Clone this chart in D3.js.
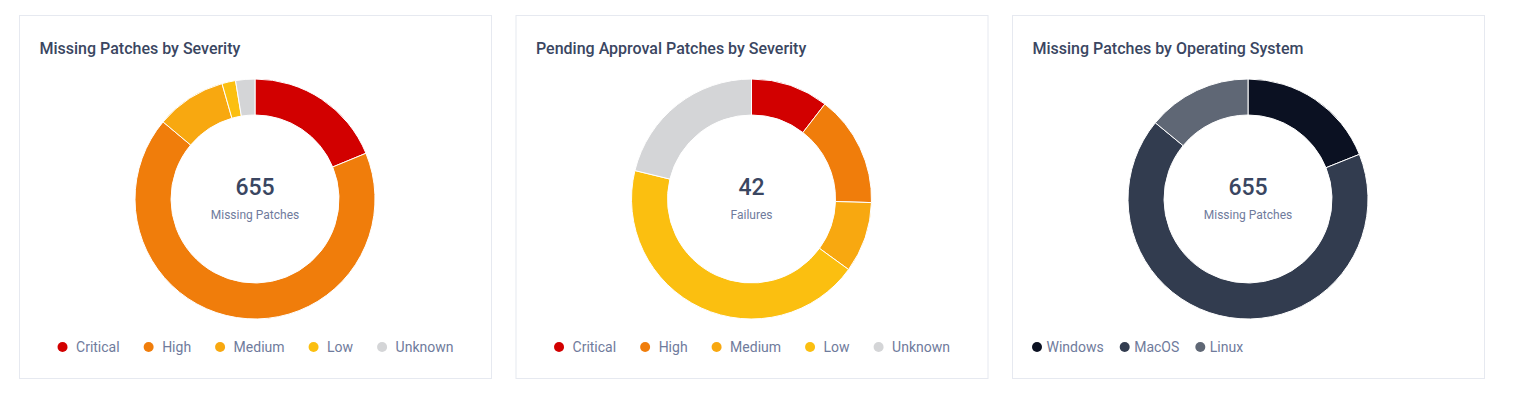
<!DOCTYPE html>
<html>
<head>
<meta charset="utf-8">
<script src="https://cdn.jsdelivr.net/npm/d3@7"></script>
<style>
  body { margin: 0; background: #fff; font-family: Roboto, sans-serif; }
</style>
</head>
<body>
<svg id="chart" width="1517" height="395"></svg>
<script>
const severityLabels = ['Critical', 'High', 'Medium', 'Low', 'Unknown'];
const severityColors = ['#d20000', '#f07d0b', '#f8a810', '#fbbf10', '#d4d5d7'];
const missingBySeverity = [123, 441, 62, 12, 17];
const pendingBySeverity = [4.4, 6.3, 4, 18.4, 8.9];

const osLabels = ['Windows', 'MacOS', 'Linux'];
const osColors = ['#0b1122', '#323c4f', '#5f6775'];
const missingByOs = [124, 439, 92];

const cards = [
  { title: 'Missing Patches by Severity', labels: severityLabels, colors: severityColors, values: missingBySeverity, total: '655', sub: 'Missing Patches', legend: 'center' },
  { title: 'Pending Approval Patches by Severity', labels: severityLabels, colors: severityColors, values: pendingBySeverity, total: '42', sub: 'Failures', legend: 'center' },
  { title: 'Missing Patches by Operating System', labels: osLabels, colors: osColors, values: missingByOs, total: '655', sub: 'Missing Patches', legend: 'left' }
];

const svg = d3.select('#chart');
const cardW = 472, cardH = 363, cardY = 15.5;
const cardX = d3.scalePoint().domain(d3.range(cards.length)).range([19.5, 1012.5]);

const outerR = 120, innerR = 84;
const arc = d3.arc().innerRadius(innerR).outerRadius(outerR);
const pie = d3.pie().sort(null).value(d => d);

cards.forEach((c, i) => {
  const g = svg.append('g').attr('transform', `translate(${cardX(i)},${cardY})`);

  g.append('rect')
    .attr('width', cardW)
    .attr('height', cardH)
    .attr('fill', '#fff')
    .attr('stroke', '#e6e9f0');

  g.append('text')
    .attr('x', 20)
    .attr('y', 38)
    .attr('fill', '#3a4661')
    .style('font-size', '16px')
    .style('font-weight', 500)
    .text(c.title);

  const cx = cardW / 2 - 0.5, cy = 183.5;
  const donut = g.append('g').attr('transform', `translate(${cx},${cy})`);

  donut.selectAll('path')
    .data(pie(c.values))
    .join('path')
    .attr('d', arc)
    .attr('fill', (d, j) => c.colors[j])
    .attr('stroke', '#fff')
    .attr('stroke-width', 1);

  donut.append('text')
    .attr('y', -4)
    .attr('text-anchor', 'middle')
    .attr('fill', '#3a4661')
    .style('font-size', '23px')
    .style('font-weight', 500)
    .text(c.total);

  donut.append('text')
    .attr('y', 19.5)
    .attr('text-anchor', 'middle')
    .attr('fill', '#6f7b9c')
    .style('font-size', '12px')
    .text(c.sub);

  // legend
  const legend = g.append('g');
  const dotGap = c.legend === 'left' ? 9.5 : 13.5;
  const itemGap = c.legend === 'left' ? 21 : 29;
  let x = 0;
  c.labels.forEach((lab, j) => {
    const item = legend.append('g').attr('transform', `translate(${x},0)`);
    item.append('circle').attr('r', 5).attr('fill', c.colors[j]);
    const t = item.append('text')
      .attr('x', dotGap)
      .attr('dy', '0.35em')
      .attr('fill', '#6f7b9c')
      .style('font-size', '14px')
      .text(lab);
    x += dotGap + t.node().getComputedTextLength() + itemGap;
  });
  const legendW = x - itemGap + 5;
  const lx = c.legend === 'left' ? 24.5 : (cardW - legendW) / 2 + 5;
  legend.attr('transform', `translate(${lx},${331.5})`);
});
</script>
</body>
</html>
